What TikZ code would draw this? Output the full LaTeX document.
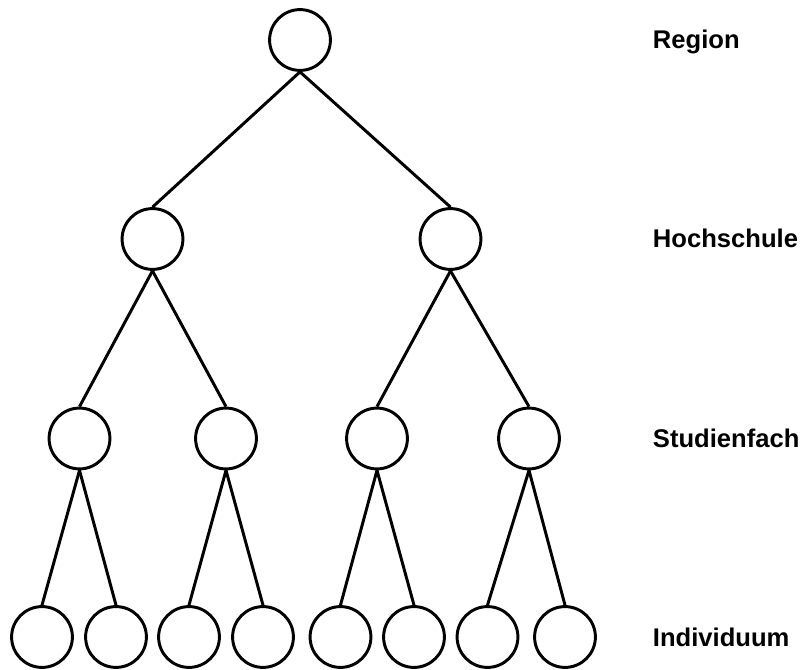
\documentclass[tikz,border=0pt]{standalone}
\usepackage{fontspec}
\setmainfont{Liberation Sans}
\usepackage{tikz}
\usetikzlibrary{positioning}

\tikzset{
  unit/.style={circle,draw,line width=2.1pt,inner sep=0pt,minimum size=1.52cm},
  level/.style={anchor=base west,font=\fontsize{18.2}{22}\selectfont\bfseries},
  link/.style={line width=2.1pt}
}

\begin{document}
\begin{tikzpicture}[x=0.25mm,y=-0.25mm]
\useasboundingbox (0,0) rectangle (800,670);
\node[unit] (reg) at (300,40) {};
\node[unit] (hs1) at (152.5,239) {};
\node[unit] (hs2) at (450.5,239) {};
\node[unit] (sf1) at (79.5,438.5) {};
\node[unit] (sf2) at (226,438.5) {};
\node[unit] (sf3) at (377,438.5) {};
\node[unit] (sf4) at (529,438.5) {};
\node[unit] (ind1) at (42,637) {};
\node[unit] (ind2) at (116,637) {};
\node[unit] (ind3) at (189,637) {};
\node[unit] (ind4) at (263,637) {};
\node[unit] (ind5) at (340.5,637) {};
\node[unit] (ind6) at (414,637) {};
\node[unit] (ind7) at (487.5,637) {};
\node[unit] (ind8) at (565,637) {};
\draw[link] (reg.south) -- (hs1.north);
\draw[link] (reg.south) -- (hs2.north);
\draw[link] (hs1.south) -- (sf1.north);
\draw[link] (hs1.south) -- (sf2.north);
\draw[link] (hs2.south) -- (sf3.north);
\draw[link] (hs2.south) -- (sf4.north);
\draw[link] (sf1.south) -- (ind1.north);
\draw[link] (sf1.south) -- (ind2.north);
\draw[link] (sf2.south) -- (ind3.north);
\draw[link] (sf2.south) -- (ind4.north);
\draw[link] (sf3.south) -- (ind5.north);
\draw[link] (sf3.south) -- (ind6.north);
\draw[link] (sf4.south) -- (ind7.north);
\draw[link] (sf4.south) -- (ind8.north);
\node[level] (lreg) at (648,49) {Region};
\node[level] (lhs) at (648,248) {Hochschule};
\node[level] (lsf) at (648,447.5) {Studienfach};
\node[level] (lind) at (648,646) {Individuum};
\end{tikzpicture}
\end{document}
